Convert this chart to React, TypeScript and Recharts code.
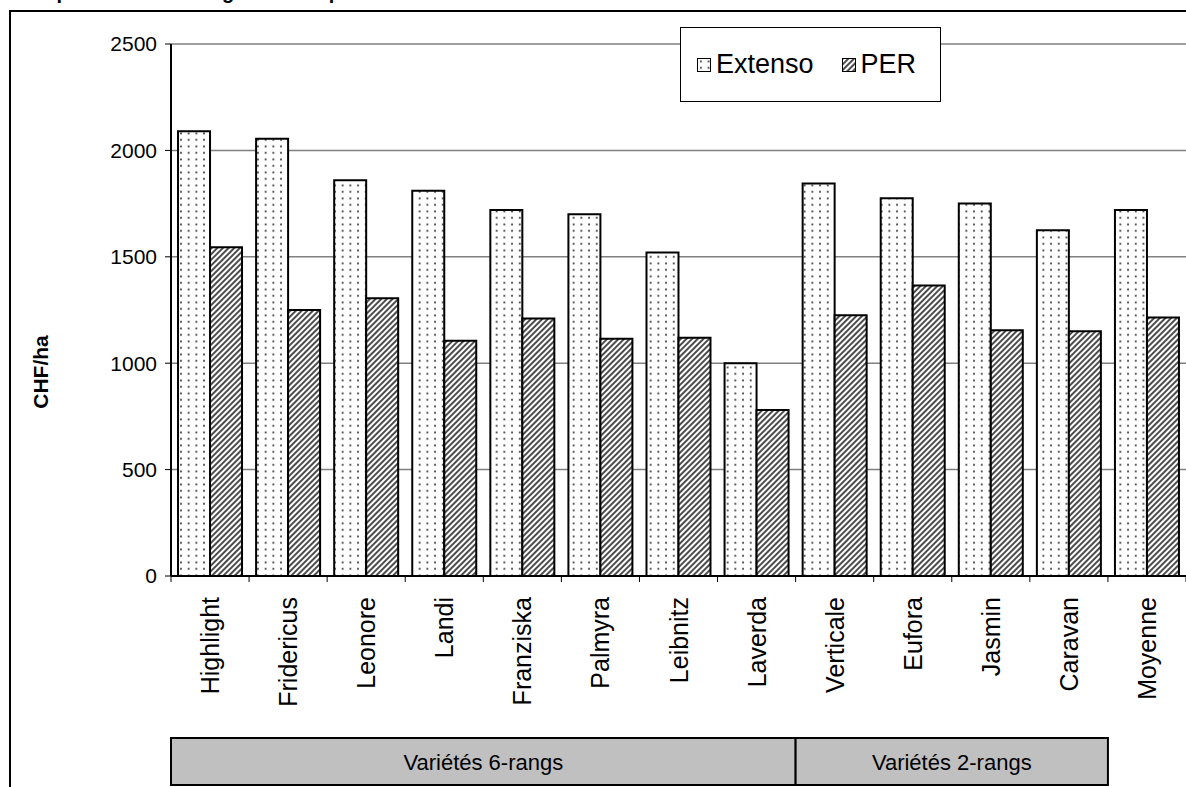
import React from "react";
import { BarChart, Bar, XAxis, YAxis, CartesianGrid } from "recharts";

const categories = [
  "Highlight",
  "Fridericus",
  "Leonore",
  "Landi",
  "Franziska",
  "Palmyra",
  "Leibnitz",
  "Laverda",
  "Verticale",
  "Eufora",
  "Jasmin",
  "Caravan",
  "Moyenne",
];
const extenso = [2090, 2055, 1860, 1810, 1720, 1700, 1520, 1000, 1845, 1775, 1750, 1625, 1720];
const per = [1545, 1250, 1305, 1105, 1210, 1115, 1120, 780, 1225, 1365, 1155, 1150, 1215];
const yTicks = [0, 500, 1000, 1500, 2000, 2500];
const groups = [
  { label: "Variétés 6-rangs", start: 0, count: 8 },
  { label: "Variétés 2-rangs", start: 8, count: 4 },
];
const series = [
  { key: "extenso", label: "Extenso", fill: "url(#dots)" },
  { key: "per", label: "PER", fill: "url(#hatch)" },
];

const data = categories.map((name, i) => ({ name, extenso: extenso[i], per: per[i] }));

const W = 1186;
const H = 787;
const MARGIN = { top: 44, right: 0, bottom: 51, left: 111 };
const Y_AXIS_W = 60;
const X_AXIS_H = 160;
const PLOT_LEFT = MARGIN.left + Y_AXIS_W;
const PLOT_BOTTOM = H - MARGIN.bottom - X_AXIS_H;
const BAND = (W - PLOT_LEFT - MARGIN.right) / categories.length;
const FONT = "Arial, 'Liberation Sans', sans-serif";

function CategoryTick(props: any) {
  const { x, index, payload } = props;
  const left = x - BAND / 2;
  const group = groups.find((g) => g.start === index);
  return (
    <g>
      <line x1={left} y1={PLOT_BOTTOM} x2={left} y2={PLOT_BOTTOM + 6} stroke="#000" strokeWidth={1} />
      {index === categories.length - 1 && (
        <line x1={left + BAND} y1={PLOT_BOTTOM} x2={left + BAND} y2={PLOT_BOTTOM + 6} stroke="#000" strokeWidth={1} />
      )}
      <text
        transform={`translate(${x},${PLOT_BOTTOM + 21}) rotate(-90)`}
        textAnchor="end"
        dy="0.36em"
        fontSize={25}
        fontFamily={FONT}
        fill="#000"
      >
        {payload.value}
      </text>
      {group && (
        <g>
          <rect
            x={left}
            y={738}
            width={group.count * BAND}
            height={47}
            fill="#c0c0c0"
            stroke="#000"
            strokeWidth={2}
          />
          <text
            x={left + (group.count * BAND) / 2}
            y={762}
            textAnchor="middle"
            dominantBaseline="central"
            fontSize={22}
            fontFamily={FONT}
            fill="#000"
          >
            {group.label}
          </text>
        </g>
      )}
    </g>
  );
}

function LegendBox() {
  return (
    <div
      style={{
        position: "absolute",
        left: 680,
        top: 27,
        width: 261,
        height: 75,
        boxSizing: "border-box",
        border: "1px solid #000",
        background: "#fff",
        display: "flex",
        alignItems: "center",
        paddingLeft: 16,
        fontFamily: FONT,
        fontSize: 27,
        color: "#000",
      }}
    >
      {series.map((it, i) => (
        <div key={it.key} style={{ display: "flex", alignItems: "center", marginRight: i === 0 ? 28 : 0 }}>
          <svg width={14} height={14} style={{ marginRight: 5 }}>
            <rect x={0.5} y={0.5} width={13} height={13} fill={it.fill} stroke="#000" strokeWidth={1} />
          </svg>
          <span style={{ lineHeight: "27px" }}>{it.label}</span>
        </div>
      ))}
    </div>
  );
}

export default function App() {
  return (
    <div style={{ position: "absolute", left: 0, top: 0, width: W, height: H, overflow: "hidden", background: "#fff" }}>
      <svg width={W} height={H} style={{ position: "absolute", left: 0, top: 0 }}>
        <defs>
          <pattern id="dots" patternUnits="userSpaceOnUse" width={7.7} height={6.5}>
            <rect width={7.7} height={6.5} fill="#fff" />
            <rect x={3} y={2.5} width={1.7} height={1.7} fill="#222" />
          </pattern>
          <pattern id="hatch" patternUnits="userSpaceOnUse" width={4} height={4} patternTransform="rotate(45)">
            <rect width={4} height={4} fill="#fff" />
            <line x1={1} y1={0} x2={1} y2={4} stroke="#000" strokeWidth={1.4} />
          </pattern>
        </defs>
        <text x={12} y={-1} fontSize={20} fontWeight="bold" fontFamily={FONT} fill="#000">
          Comparaison des marges brutes par variété
        </text>
        <rect x={10} y={11} width={1300} height={900} fill="none" stroke="#000" strokeWidth={2} />
        <text
          transform="translate(40,372) rotate(-90)"
          textAnchor="middle"
          dominantBaseline="central"
          fontSize={21}
          fontWeight="bold"
          fontFamily={FONT}
          fill="#000"
        >
          CHF/ha
        </text>
      </svg>
      <div style={{ position: "absolute", left: 0, top: 0 }}>
        <BarChart width={W} height={H} data={data} margin={MARGIN} barCategoryGap="9%" barGap={0}>
          <CartesianGrid vertical={false} stroke="#808080" strokeWidth={1.5} />
          <XAxis
            dataKey="name"
            height={X_AXIS_H}
            interval={0}
            tickLine={false}
            axisLine={{ stroke: "#000", strokeWidth: 2 }}
            tick={<CategoryTick />}
          />
          <YAxis
            width={Y_AXIS_W}
            domain={[0, 2500]}
            ticks={yTicks}
            interval={0}
            tickSize={6}
            tickMargin={8}
            tickLine={{ stroke: "#000" }}
            axisLine={{ stroke: "#000", strokeWidth: 2 }}
            tick={{ fill: "#000", fontSize: 21, fontFamily: FONT }}
          />
          {series.map((s) => (
            <Bar
              key={s.key}
              dataKey={s.key}
              name={s.label}
              fill={s.fill}
              stroke="#000"
              strokeWidth={2}
              isAnimationActive={false}
            />
          ))}
        </BarChart>
      </div>
      <LegendBox />
    </div>
  );
}
